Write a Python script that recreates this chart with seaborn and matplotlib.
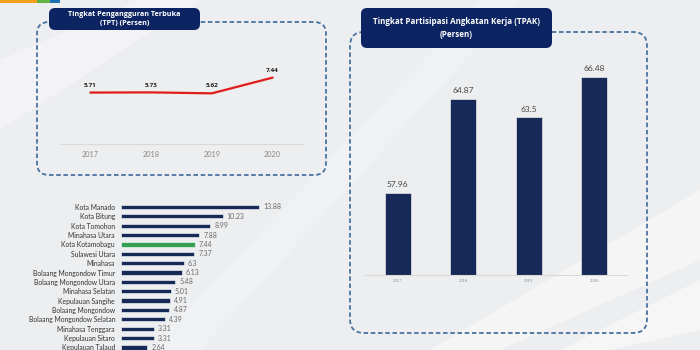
import matplotlib
matplotlib.use("Agg")
import matplotlib.pyplot as plt
import seaborn as sns
import pandas as pd
from matplotlib.patches import FancyBboxPatch, Rectangle, Polygon

# ---------------- data ----------------
years = ["2017", "2018", "2019", "2020"]
tpt = [5.71, 5.73, 5.62, 7.44]
tpak = [57.96, 64.87, 63.5, 66.48]
regions = ["Kota Manado", "Kota Bitung", "Kota Tomohon", "Minahasa Utara",
           "Kota Kotamobagu", "Sulawesi Utara", "Minahasa", "Bolaang Mongondow Timur",
           "Bolaang Mongondow Utara", "Minahasa Selatan", "Kepulauan Sangihe",
           "Bolaang Mongondow", "Bolaang Mongondow Selatan", "Minahasa Tenggara",
           "Kepulauan Sitaro", "Kepulauan Talaud"]
region_tpt = [13.88, 10.23, 8.99, 7.88, 7.44, 7.37, 6.3, 6.13, 5.48, 5.01, 4.91,
              4.87, 4.39, 3.31, 3.31, 2.64]
highlight = "Kota Kotamobagu"
title_tpt = "Tingkat Pengangguran Terbuka\n(TPT) (Persen)"
title_tpak = "Tingkat Partisipasi Angkatan Kerja (TPAK)\n(Persen)"

sns.set_theme(style="white")
plt.rcParams["font.family"] = ["Lato", "DejaVu Sans"]
BOLD = ["Open Sans", "DejaVu Sans"]

W, H = 700, 350
BG = "#edeef0"
NAVY = "#0c2461"
DASH = "#4672a0"

fig = plt.figure(figsize=(7, 3.5), dpi=100)
fig.patch.set_facecolor(BG)

def fx(x):
    return x / W

def fy(y):
    return 1 - y / H

def add_axes_px(left, top, right, bottom):
    return fig.add_axes([fx(left), fy(bottom), (right - left) / W, (bottom - top) / H])

# background / decoration axes in pixel coordinates (y downwards)
bg = fig.add_axes([0, 0, 1, 1], zorder=-5)
bg.set_xlim(0, W)
bg.set_ylim(H, 0)
bg.axis("off")
bg.set_facecolor(BG)
for pts, a in [
    ([(0, 60), (140, 0), (200, 0), (0, 130)], 0.35),
    ([(430, 350), (700, 190), (700, 260), (500, 350)], 0.45),
    ([(560, 350), (700, 280), (700, 330), (610, 350)], 0.5),
    ([(150, 350), (480, 0), (520, 0), (200, 350)], 0.22),
]:
    bg.add_patch(Polygon(pts, closed=True, facecolor="white", edgecolor="none", alpha=a))

for x0, x1, c in [(0, 37, "#f5a01a"), (37, 50, "#62b246"), (50, 60, "#1f6fb5")]:
    bg.add_patch(Rectangle((x0, 0), x1 - x0, 3, facecolor=c, edgecolor="none"))

def dashed_box(x0, y0, x1, y1, r):
    bg.add_patch(FancyBboxPatch((x0, y0), x1 - x0, y1 - y0,
                                boxstyle=f"round,pad=0,rounding_size={r}",
                                facecolor="none", edgecolor=DASH,
                                linewidth=1.3, linestyle=(0, (2.5, 1.5)), zorder=2))

def title_box(x0, y0, x1, y1, text, fs):
    bg.add_patch(FancyBboxPatch((x0, y0), x1 - x0, y1 - y0,
                                boxstyle="round,pad=0,rounding_size=6",
                                facecolor=NAVY, edgecolor="none", zorder=3))
    bg.text((x0 + x1) / 2, (y0 + y1) / 2, text, ha="center", va="center",
            color="white", fontsize=fs, fontweight="bold", family=BOLD,
            linespacing=1.45, zorder=4)

dashed_box(37, 22, 326, 175, 12)
title_box(49, 8, 200, 30, title_tpt, 5.2)
dashed_box(350, 32, 647, 333, 14)
title_box(361, 8, 552, 48, title_tpak, 5.8)

# ---------------- TPT line ----------------
ax1 = add_axes_px(60, 40, 303, 144)
df1 = pd.DataFrame({"idx": range(len(years)), "tpt": tpt})
sns.lineplot(data=df1, x="idx", y="tpt", ax=ax1, color="#e01b1b", linewidth=1.6)
ax1.set_xlim(-0.5, 3.5)
ax1.set_ylim(-0.25, 11.8)
ax1.set_facecolor("none")
for s in ["top", "right", "left"]:
    ax1.spines[s].set_visible(False)
ax1.spines["bottom"].set_color("#d9d9d9")
ax1.spines["bottom"].set_linewidth(0.8)
ax1.set_xticks(range(len(years)))
ax1.set_xticklabels(years, fontsize=5.3, color="#8a8a8a")
ax1.tick_params(axis="x", length=0, pad=5)
ax1.set_yticks([])
ax1.set_xlabel("")
ax1.set_ylabel("")
for i, v in enumerate(tpt):
    ax1.annotate(f"{v}", (i, v), xytext=(0, 3.5), textcoords="offset points",
                 ha="center", va="bottom", fontsize=4.6, fontweight="bold",
                 family=BOLD, color="#222222")

# ---------------- Region bars ----------------
ax2 = add_axes_px(121, 207 - 0.5 * 9.36, 121 + 16 * 9.94, 207 + 15.5 * 9.36)
df2 = pd.DataFrame({"region": regions, "val": region_tpt})
pal = {r: ("#22b24c" if r == highlight else NAVY) for r in regions}
sns.barplot(data=df2, x="val", y="region", hue="region", palette=pal, legend=False,
            orient="h", width=0.45, ax=ax2, edgecolor="white", linewidth=0.4)
ax2.set_xlim(0, 16)
ax2.set_ylim(15.5, -0.5)
ax2.set_facecolor("none")
for s in ax2.spines.values():
    s.set_visible(False)
ax2.set_xticks([])
ax2.tick_params(axis="y", length=0, pad=4.3, labelsize=4.9, labelcolor="#333333")
ax2.set_xlabel("")
ax2.set_ylabel("")
for i, v in enumerate(region_tpt):
    ax2.annotate(f"{v}", (v, i), xytext=(3, 0), textcoords="offset points",
                 ha="left", va="center", fontsize=5.0, color="#6a6a6a")

# ---------------- TPAK bars ----------------
ax3 = add_axes_px(365, 60, 627, 275)
df3 = pd.DataFrame({"year": years, "tpak": tpak})
sns.barplot(data=df3, x="year", y="tpak", color=NAVY, width=0.4, ax=ax3,
            edgecolor="white", linewidth=0.4)
ax3.set_xlim(-0.5, 3.5)
ax3.set_ylim(51.9, 67.7)
ax3.set_facecolor("none")
for s in ["top", "right", "left"]:
    ax3.spines[s].set_visible(False)
ax3.spines["bottom"].set_color("#d9d9d9")
ax3.spines["bottom"].set_linewidth(0.8)
ax3.set_yticks([])
ax3.tick_params(axis="x", length=0, pad=3, labelsize=3.4, labelcolor="#8a8a8a")
for lab in ax3.get_xticklabels():
    lab.set_family(["Liberation Serif", "DejaVu Serif"])
ax3.set_xlabel("")
ax3.set_ylabel("")
for i, v in enumerate(tpak):
    ax3.annotate(f"{v}", (i, v), xytext=(0, 3), textcoords="offset points",
                 ha="center", va="bottom", fontsize=6.0, color="#444444")

fig.savefig("out.png", dpi=100, facecolor=fig.get_facecolor())
